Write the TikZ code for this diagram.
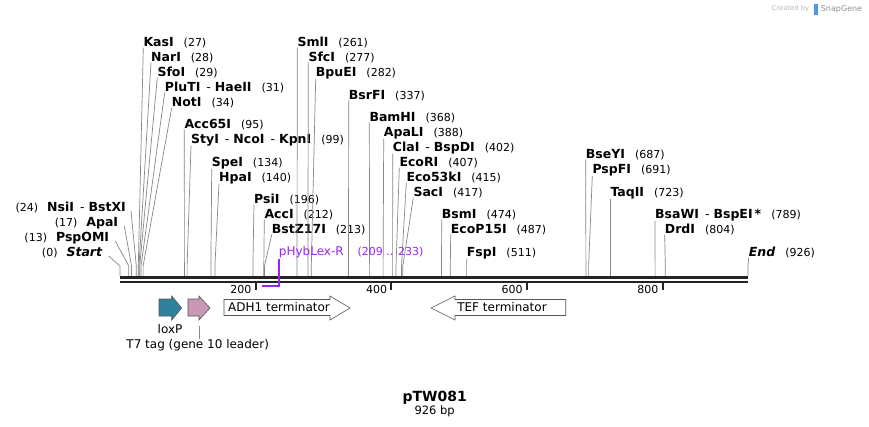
\documentclass[tikz,border=0pt]{standalone}
\usepackage{fontspec}
\setmainfont{DejaVu Sans}
\usetikzlibrary{positioning}
\definecolor{sitegray}{RGB}{135,135,135}
\definecolor{bbdark}{RGB}{35,35,35}
\definecolor{loxteal}{RGB}{47,130,155}
\definecolor{tagpink}{RGB}{201,152,180}
\definecolor{featedge}{RGB}{85,85,85}
\definecolor{primerviolet}{RGB}{155,35,240}
\definecolor{wmlight}{RGB}{185,185,185}
\definecolor{wmdark}{RGB}{145,145,145}
\definecolor{logoblue}{RGB}{75,155,235}
\newcommand{\sitepos}[1]{{\mdseries\fontsize{11}{13}\selectfont(#1)}}
\newcommand{\enzdash}{{\mdseries\hspace{6pt}-\hspace{4pt}}}
\newcommand{\rsite}[2]{\textbf{#1}\hspace{10pt}\sitepos{#2}}
\newcommand{\lsite}[2]{\sitepos{#2}\hspace{9pt}\textbf{#1}}
\tikzset{
  rlabel/.style={anchor=base west},
  llabel/.style={anchor=base east},
  cutline/.style={draw=sitegray,line width=0.7pt},
  feat/.style={draw=featedge,line width=0.6pt,line join=miter},
  rulertick/.style={draw=bbdark,line width=1.8pt},
  ticklabel/.style={anchor=base east,font=\fontsize{11}{13}\selectfont},
  primer/.style={draw=primerviolet,line width=1.8pt}
}

\begin{document}
\begin{tikzpicture}[x=1pt,y=-1pt,inner sep=0pt,font=\fontsize{12.5}{14}\selectfont,line cap=butt]
\fill[white] (0,0) rectangle (869,426);
\useasboundingbox (0,0) rectangle (869,426);
\coordinate (bbstart) at (120,277.5);
\coordinate (bbend) at (748,277.5);
\coordinate (s0) at (120,276);
\coordinate (s13) at (128.8,276);
\coordinate (s17) at (131.5,276);
\coordinate (s24) at (136.3,276);
\coordinate (s27) at (138.3,276);
\coordinate (s28) at (139.0,276);
\coordinate (s29) at (139.7,276);
\coordinate (s31) at (141.0,276);
\coordinate (s34) at (143.1,276);
\coordinate (s95) at (184.4,276);
\coordinate (s99) at (187.1,276);
\coordinate (s134) at (210.9,276);
\coordinate (s140) at (214.9,276);
\coordinate (s196) at (252.9,276);
\coordinate (s212) at (263.8,276);
\coordinate (s213) at (264.5,276);
\coordinate (s261) at (297.0,276);
\coordinate (s277) at (307.9,276);
\coordinate (s282) at (311.3,276);
\coordinate (s337) at (348.5,276);
\coordinate (s368) at (369.6,276);
\coordinate (s388) at (383.1,276);
\coordinate (s402) at (392.6,276);
\coordinate (s407) at (396.0,276);
\coordinate (s415) at (401.5,276);
\coordinate (s417) at (402.8,276);
\coordinate (s474) at (441.5,276);
\coordinate (s487) at (450.3,276);
\coordinate (s511) at (466.6,276);
\coordinate (s687) at (585.9,276);
\coordinate (s691) at (588.6,276);
\coordinate (s723) at (610.3,276);
\coordinate (s789) at (655.1,276);
\coordinate (s804) at (665.3,276);
\coordinate (s926) at (748.0,276);
\node[llabel] (start) at (102.7,256) {\lsite{\textit{Start}}{0}};
\node[llabel] (pspo) at (109.3,241) {\lsite{PspOMI}{13}};
\node[llabel] (apa) at (118.3,226) {\lsite{ApaI}{17}};
\node[llabel] (nsi) at (126,211) {\lsite{NsiI\enzdash BstXI}{24}};
\node[rlabel] (kas) at (143.3,46) {\rsite{KasI}{27}};
\node[rlabel] (nar) at (151,61) {\rsite{NarI}{28}};
\node[rlabel] (sfo) at (157.3,76) {\rsite{SfoI}{29}};
\node[rlabel] (plu) at (164.7,91) {\rsite{PluTI\enzdash HaeII}{31}};
\node[rlabel] (not) at (171.7,106) {\rsite{NotI}{34}};
\node[rlabel] (acc65) at (184.3,128) {\rsite{Acc65I}{95}};
\node[rlabel] (sty) at (191,143) {\rsite{StyI\enzdash NcoI\enzdash KpnI}{99}};
\node[rlabel] (spe) at (211.7,166) {\rsite{SpeI}{134}};
\node[rlabel] (hpa) at (219,181) {\rsite{HpaI}{140}};
\node[rlabel] (psi) at (254,203) {\rsite{PsiI}{196}};
\node[rlabel] (acc) at (264.3,218) {\rsite{AccI}{212}};
\node[rlabel] (bstz) at (271.7,233) {\rsite{BstZ17I}{213}};
\node[rlabel] (sml) at (297.3,46) {\rsite{SmlI}{261}};
\node[rlabel] (sfc) at (308.3,61) {\rsite{SfcI}{277}};
\node[rlabel] (bpu) at (315.7,76) {\rsite{BpuEI}{282}};
\node[rlabel] (bsrf) at (348.7,99) {\rsite{BsrFI}{337}};
\node[rlabel] (bam) at (369.3,121) {\rsite{BamHI}{368}};
\node[rlabel] (apal) at (383.7,136) {\rsite{ApaLI}{388}};
\node[rlabel] (cla) at (392.7,151) {\rsite{ClaI\enzdash BspDI}{402}};
\node[rlabel] (ecori) at (399.3,166) {\rsite{EcoRI}{407}};
\node[rlabel] (eco53) at (406.3,181) {\rsite{Eco53kI}{415}};
\node[rlabel] (sac) at (413.3,196) {\rsite{SacI}{417}};
\node[rlabel] (bsm) at (441.7,218) {\rsite{BsmI}{474}};
\node[rlabel] (ecop) at (450.7,233) {\rsite{EcoP15I}{487}};
\node[rlabel] (fsp) at (466.7,256) {\rsite{FspI}{511}};
\node[rlabel] (bsey) at (585.7,158) {\rsite{BseYI}{687}};
\node[rlabel] (pspf) at (592.3,173) {\rsite{PspFI}{691}};
\node[rlabel] (taq) at (610.3,196) {\rsite{TaqII}{723}};
\node[rlabel] (bsaw) at (655,218) {\rsite{BsaWI\enzdash BspEI\,*}{789}};
\node[rlabel] (drd) at (664.7,233) {\rsite{DrdI}{804}};
\node[rlabel] (endl) at (748.7,256) {\rsite{\textit{End}}{926}};
\draw[cutline] ([xshift=6pt]start.base east) -- ([yshift=10pt]s0) -- (s0);
\draw[cutline] ([xshift=6pt]pspo.base east) -- ([yshift=10pt]s13) -- (s13);
\draw[cutline] ([xshift=6pt]apa.base east) -- ([yshift=10pt]s17) -- (s17);
\draw[cutline] ([xshift=5pt]nsi.base east) -- ([yshift=10pt]s24) -- (s24);
\draw[cutline] (kas.south west) -- ([yshift=10pt]s27) -- (s27);
\draw[cutline] (nar.south west) -- ([yshift=10pt]s28) -- (s28);
\draw[cutline] (sfo.south west) -- ([yshift=10pt]s29) -- (s29);
\draw[cutline] (plu.south west) -- ([yshift=10pt]s31) -- (s31);
\draw[cutline] (not.south west) -- ([yshift=10pt]s34) -- (s34);
\draw[cutline] (acc65.south west) -- ([yshift=10pt]s95) -- (s95);
\draw[cutline] (sty.south west) -- ([yshift=10pt]s99) -- (s99);
\draw[cutline] (spe.south west) -- ([yshift=10pt]s134) -- (s134);
\draw[cutline] (hpa.south west) -- ([yshift=10pt]s140) -- (s140);
\draw[cutline] (psi.south west) -- ([yshift=10pt]s196) -- (s196);
\draw[cutline] (acc.south west) -- ([yshift=10pt]s212) -- (s212);
\draw[cutline] (bstz.south west) -- ([yshift=10pt]s213) -- (s213);
\draw[cutline] (sml.south west) -- ([yshift=10pt]s261) -- (s261);
\draw[cutline] (sfc.south west) -- ([yshift=10pt]s277) -- (s277);
\draw[cutline] (bpu.south west) -- ([yshift=10pt]s282) -- (s282);
\draw[cutline] (bsrf.south west) -- ([yshift=10pt]s337) -- (s337);
\draw[cutline] (bam.south west) -- ([yshift=10pt]s368) -- (s368);
\draw[cutline] (apal.south west) -- ([yshift=10pt]s388) -- (s388);
\draw[cutline] (cla.south west) -- ([yshift=10pt]s402) -- (s402);
\draw[cutline] (ecori.south west) -- ([yshift=10pt]s407) -- (s407);
\draw[cutline] (eco53.south west) -- ([yshift=10pt]s415) -- (s415);
\draw[cutline] (sac.south west) -- ([yshift=10pt]s417) -- (s417);
\draw[cutline] (bsm.south west) -- ([yshift=10pt]s474) -- (s474);
\draw[cutline] (ecop.south west) -- ([yshift=10pt]s487) -- (s487);
\draw[cutline] (fsp.south west) -- ([yshift=10pt]s511) -- (s511);
\draw[cutline] (bsey.south west) -- ([yshift=10pt]s687) -- (s687);
\draw[cutline] (pspf.south west) -- ([yshift=10pt]s691) -- (s691);
\draw[cutline] (taq.south west) -- ([yshift=10pt]s723) -- (s723);
\draw[cutline] (bsaw.south west) -- ([yshift=10pt]s789) -- (s789);
\draw[cutline] (drd.south west) -- ([yshift=10pt]s804) -- (s804);
\draw[cutline] (endl.south west) -- ([yshift=10pt]s926) -- (s926);
\draw[bbdark,line width=3pt] (bbstart) -- (bbend);
\draw[bbdark,line width=2pt] ([yshift=-4.5pt]bbstart) -- ([yshift=-4.5pt]bbend);
\coordinate (r200) at (255.6,283);
\coordinate (r400) at (391.3,283);
\coordinate (r600) at (526.9,283);
\coordinate (r800) at (662.6,283);
\draw[rulertick] (r200) -- ++(0,7);
\draw[rulertick] (r400) -- ++(0,7);
\draw[rulertick] (r600) -- ++(0,7);
\draw[rulertick] (r800) -- ++(0,7);
\node[ticklabel] (l200) at ([xshift=-4pt,yshift=-10pt]r200) {200};
\node[ticklabel] (l400) at ([xshift=-4pt,yshift=-10pt]r400) {400};
\node[ticklabel] (l600) at ([xshift=-4pt,yshift=-10pt]r600) {600};
\node[ticklabel] (l800) at ([xshift=-4pt,yshift=-10pt]r800) {800};
\coordinate (pfrom) at (261.7,286);
\coordinate (pto) at (278.7,286);
\node[rlabel,text=primerviolet,font=\fontsize{12}{14}\selectfont] (phyb) at (278.7,255) {pHybLex-R\hspace{14pt}{\fontsize{11}{13}\selectfont(209 .. 233)}};
\draw[primer] ([yshift=-1pt]phyb.south west) -- (pto) -- (pfrom);
\draw[feat,fill=loxteal] (159,299) -- (171.7,299) -- (171.7,296) -- (181.7,308) -- (171.7,320) -- (171.7,316) -- (159,316) -- cycle;
\draw[feat,fill=tagpink] (188,299) -- (199,299) -- (199,296) -- (210,308) -- (199,320) -- (199,316) -- (188,316) -- cycle;
\draw[feat,fill=white] (224,299.5) -- (330,299.5) -- (330,296) -- (350,308) -- (330,320) -- (330,315.5) -- (224,315.5) -- cycle;
\draw[feat,fill=white] (565.7,299.5) -- (455,299.5) -- (455,296) -- (431,308) -- (455,320) -- (455,315.5) -- (565.7,315.5) -- cycle;
\node[font=\fontsize{12}{14}\selectfont] (adh) at (279,307.5) {ADH1 terminator};
\node[font=\fontsize{12}{14}\selectfont] (tef) at (502,307.5) {TEF terminator};
\node[anchor=base,font=\fontsize{12}{14}\selectfont] (loxlab) at (170,333) {loxP};
\node[anchor=base,font=\fontsize{12}{14}\selectfont] (t7lab) at (197.7,348) {T7 tag (gene 10 leader)};
\coordinate (t7mark) at (199.3,326);
\draw[sitegray,line width=0.7pt] (t7mark) -- (t7mark |- t7lab.north);
\node[anchor=base,font=\fontsize{14}{16}\selectfont\bfseries] (title) at (434.7,401) {pTW081};
\node[anchor=base,font=\fontsize{11.5}{13}\selectfont] (size) at (434.7,414) {926 bp};
\node[fill=logoblue,minimum width=4pt,minimum height=11pt] (logo) at (815.5,9) {};
\node[left=4pt of logo,font=\fontsize{6.8}{8}\selectfont,text=wmlight] (createdby) {Created by};
\node[right=3pt of logo,font=\fontsize{8}{9}\selectfont,text=wmdark] (snapgene) {SnapGene};
\end{tikzpicture}
\end{document}
